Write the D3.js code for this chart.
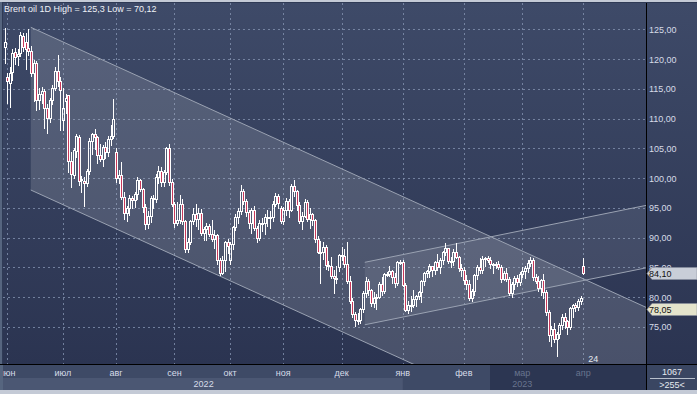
<!DOCTYPE html>
<html><head><meta charset="utf-8">
<script src="https://cdn.jsdelivr.net/npm/d3@7/dist/d3.min.js"></script>
<style>
html,body{margin:0;padding:0;background:#2f3a55;overflow:hidden;}
svg{display:block;font-family:"Liberation Sans",Arial,sans-serif;}
</style></head><body>
<svg id="chart" width="697" height="394"></svg>
<script>
const title = "Brent oil 1D High = 125,3 Low = 70,12";
const opens = [122.1,
116.9,116.0,117.8,121.2,120.5,121.0,123.8,122.9,121.9,121.3,117.6,119.3,113.1,114.1,114.7,111.7,110.1,113.1,115.1,118.0,116.3,
109.8,113.0,113.9,102.8,100.5,104.5,106.9,99.8,99.5,99.2,101.2,106.3,107.4,106.9,103.9,103.2,105.2,104.4,106.6,107.1,
104.4,100.0,100.5,96.8,94.1,94.9,96.7,96.3,97.4,99.6,98.2,95.1,92.3,93.7,96.6,96.5,100.2,101.2,99.3,101.0,105.1,99.3,
95.6,92.4,93.0,95.7,92.8,88.0,89.2,92.8,94.0,93.2,94.1,90.8,91.4,92.0,90.6,89.8,90.5,86.2,84.1,86.3,89.3,
86.2,88.9,91.8,93.4,94.4,97.9,96.2,94.3,92.5,94.6,91.6,90.0,92.4,92.4,93.5,93.3,93.5,95.7,97.0,95.0,
92.8,94.7,96.2,94.7,98.6,97.9,95.4,92.7,93.7,96.0,93.1,93.9,92.9,89.8,87.6,87.5,88.4,85.4,85.3,83.6,83.2,85.0,
87.0,86.9,85.6,82.7,79.4,77.2,76.2,76.1,78.0,80.7,82.7,81.2,79.0,79.8,80.0,82.2,81.0,83.9,83.9,84.3,83.3,82.3,85.9,
85.9,82.1,77.8,78.7,78.6,79.7,80.1,80.8,82.7,84.0,84.3,85.3,84.5,85.9,85.0,86.2,87.6,88.2,86.1,86.1,87.5,86.7,84.9,
84.5,82.8,82.2,79.9,81.0,83.7,85.1,84.5,86.4,86.6,86.2,85.6,85.4,85.6,85.1,83.0,84.1,83.1,80.6,82.2,83.2,82.5,
83.9,84.3,84.8,85.8,86.2,83.3,82.7,81.6,82.8,80.8,77.5,73.7,74.7,73.0,73.8,75.3,76.7,75.9,75.0,78.1,78.7,78.3,79.3,
85.2];
const highs = [125.3,
117.6,118.6,121.7,121.9,121.7,124.6,124.3,124.4,125.1,122.2,119.8,119.6,115.2,115.3,115.0,112.4,113.5,115.6,118.6,120.7,116.9,
115.1,114.2,114.0,104.3,105.1,107.4,107.2,100.3,100.1,101.6,106.8,107.6,108.3,107.0,105.7,105.5,106.0,107.0,109.0,113.3,
105.0,101.3,102.7,97.7,95.3,97.1,97.0,97.6,100.1,99.9,98.4,95.7,94.4,96.9,97.1,100.6,102.0,101.9,101.4,105.3,105.7,99.8,
96.0,96.0,97.1,96.4,93.0,90.0,93.0,95.0,95.6,95.0,94.8,91.8,92.5,92.3,93.0,91.2,90.6,86.6,86.9,89.4,89.8,
89.3,92.0,93.9,95.0,98.8,98.2,96.5,94.6,95.0,95.3,92.0,93.0,93.3,94.0,94.6,94.4,96.1,97.5,97.3,95.3,
95.2,96.7,96.5,99.0,99.6,98.0,96.0,94.3,96.5,96.3,95.0,94.2,93.1,90.2,89.4,89.2,88.8,86.0,86.8,84.5,85.3,87.3,
88.4,88.0,89.3,83.6,79.9,77.5,77.3,78.2,81.0,83.3,83.0,81.4,80.9,80.5,82.6,83.4,84.0,84.2,85.3,84.6,84.0,86.0,86.2,
86.3,82.4,79.3,80.1,81.2,80.4,81.0,82.8,84.2,84.6,85.6,85.3,86.0,87.2,86.5,87.8,89.1,88.3,86.8,88.0,89.1,86.9,85.5,
85.1,83.7,82.8,81.4,83.9,85.4,86.6,86.9,86.7,86.9,86.7,85.8,85.9,86.1,85.4,84.4,84.8,83.3,82.6,83.5,83.7,84.2,
85.0,85.2,86.2,86.7,86.6,83.8,83.5,83.0,83.8,81.2,77.8,75.2,75.6,74.2,75.6,77.2,77.4,76.1,78.3,78.9,79.0,79.6,80.2,
86.5];
const lows = [119.3,
112.6,112.0,116.5,119.2,119.0,120.5,121.4,118.3,120.6,117.1,113.0,111.5,111.6,112.6,108.4,107.6,109.5,112.4,114.8,115.5,108.0,
108.0,110.9,101.1,98.5,100.0,103.5,98.8,97.6,95.3,98.7,100.7,104.0,104.9,102.5,102.8,102.1,103.4,103.7,105.5,106.8,
99.4,99.1,96.4,93.2,92.8,93.8,95.0,95.1,96.5,97.8,94.3,91.5,91.6,92.6,95.0,96.0,99.1,98.6,98.7,100.6,98.9,95.3,
91.8,92.1,92.5,92.2,87.6,87.5,89.0,92.3,92.0,91.5,90.4,89.6,89.6,90.3,89.4,88.3,85.6,83.7,83.9,84.4,87.4,
85.6,88.1,91.2,92.4,94.0,95.6,93.6,91.6,90.7,91.3,89.3,89.6,91.1,90.6,92.0,91.6,92.8,95.3,95.0,92.4,
92.2,93.8,93.5,94.4,96.9,94.7,92.4,91.5,93.4,92.8,91.6,92.1,89.2,87.4,82.3,86.4,84.7,84.5,83.2,80.6,82.4,84.4,
86.3,85.0,82.3,79.0,76.7,75.1,75.5,75.6,77.5,80.0,80.4,78.5,78.4,78.0,79.8,80.4,80.6,83.5,83.5,82.3,81.7,82.0,85.5,
81.9,77.6,77.3,77.7,78.3,78.5,79.6,79.2,82.0,83.3,83.4,83.6,83.9,84.5,84.0,85.5,87.1,85.8,85.1,85.4,86.5,84.4,83.6,
82.2,81.3,79.5,79.4,80.4,83.0,84.1,84.0,85.2,85.9,84.8,84.0,84.9,84.7,82.6,82.8,82.7,80.4,80.0,81.4,81.8,82.0,
83.4,83.2,84.2,85.3,82.9,82.3,81.1,80.4,79.8,77.0,72.6,71.8,72.4,70.1,73.2,74.6,74.8,73.8,74.7,76.6,77.7,77.9,78.8,
83.8];
const closes = [122.9,
116.3,117.6,121.0,120.4,120.9,124.0,122.0,121.7,121.3,117.6,119.3,113.1,114.1,114.7,111.7,110.1,113.1,115.1,118.0,116.3,114.8,
111.8,113.5,102.8,100.7,104.7,107.0,99.5,99.6,99.1,101.2,106.3,107.4,106.9,103.9,103.2,105.2,104.4,106.6,107.1,110.0,
100.0,100.5,96.8,94.1,94.9,96.7,96.3,97.4,99.6,98.2,95.1,92.3,93.7,96.6,96.7,100.2,101.2,99.3,101.0,105.1,99.3,95.6,
92.4,93.0,95.7,92.8,88.0,89.2,92.8,94.0,93.2,94.1,90.8,91.4,92.0,90.6,89.8,90.5,86.2,84.1,86.3,89.3,88.5,
88.9,91.8,93.4,94.4,97.9,96.2,94.3,92.5,94.6,91.6,90.0,92.4,92.4,93.5,93.3,93.5,95.7,97.0,95.8,92.8,
94.7,96.2,94.7,98.6,97.9,95.4,92.7,93.7,96.0,93.1,93.9,92.9,89.8,87.6,87.5,88.4,85.4,85.3,83.6,83.2,83.0,87.0,
86.9,85.6,82.7,79.4,77.2,76.2,76.1,78.0,80.7,82.7,81.2,79.0,79.8,80.0,82.2,81.0,83.9,83.9,84.3,83.3,82.3,85.9,85.9,
82.1,77.8,78.7,78.6,79.7,80.1,80.8,82.7,84.0,84.3,85.3,84.5,85.9,85.0,86.2,87.6,88.2,86.1,86.1,87.5,86.7,84.9,84.5,
82.8,82.2,79.9,81.0,83.7,85.1,84.5,86.4,86.6,86.2,85.6,85.4,85.6,85.1,83.0,84.1,83.1,80.6,82.2,83.2,82.5,83.9,
84.3,84.8,85.8,86.2,83.3,82.7,81.6,82.8,80.8,77.5,73.7,74.7,73.0,73.8,75.3,76.7,75.9,75.0,78.1,78.7,78.3,79.3,79.8,
84.1];

const yTicks = [75,80,85,90,95,100,105,110,115,120,125];
const monthLabels = ["июн","июл","авг","сен","окт","ноя","дек","янв","фев","мар","апр"];
const monthStartBars = [1,22,42,64,85,105,127,150,173,195,218];
const yearLabels = ["2022","2023"];
const yearLabelBars = [75,195];
// trend channels: [barIndex, price]
const downChannelUpper = [[9.9,125.34],[242.7,78.05]];
const downChannelOffset = 27.35;
const upChannelLower = [[135.7,75.34],[242.7,85.0]];
const upChannelOffset = 10.5;
const lastPrice = 84.10;
const trendTag = 78.05;
const cornerTop = "1067", cornerBottom = ">255<";
const dayMark = "24";
const dayMarkBar = 218;

const W=697,H=394, L=3, R=646, T=3, B=364;
const N = closes.length;
const svg = d3.select("#chart");
const defs = svg.append("defs");
const grad = defs.append("linearGradient").attr("id","bg").attr("x1",0).attr("y1",0).attr("x2",0).attr("y2",1);
grad.append("stop").attr("offset","0%").attr("stop-color","#3e4a68");
grad.append("stop").attr("offset","100%").attr("stop-color","#2b3451");
defs.append("clipPath").attr("id","plotclip").append("rect").attr("x",L).attr("y",T).attr("width",R-L).attr("height",B-T);
defs.append("clipPath").attr("id","axclip").append("rect").attr("x",L).attr("y",B).attr("width",R-L).attr("height",H-B);

const x = d3.scaleLinear().domain([0,N-1]).range([4.5,583.3]);
const y = d3.scaleLinear().domain([75,125]).range([326.8,29.3]);

svg.append("rect").attr("width",W).attr("height",H).attr("fill","#2f3a55");
svg.append("rect").attr("x",L).attr("y",T).attr("width",W-L).attr("height",B-T).attr("fill","url(#bg)");
svg.append("rect").attr("x",0).attr("y",0).attr("width",W).attr("height",2).attr("fill","#c4cad6");
svg.append("rect").attr("x",0).attr("y",390).attr("width",W).attr("height",4).attr("fill","#c4cad6");
svg.append("rect").attr("x",0).attr("y",2).attr("width",2).attr("height",388).attr("fill","#56657f");

const plot = svg.append("g").attr("clip-path","url(#plotclip)");
plot.append("g").selectAll("line").data(yTicks).join("line")
  .attr("x1",L).attr("x2",R).attr("y1",d=>Math.round(y(d))+0.5).attr("y2",d=>Math.round(y(d))+0.5)
  .attr("stroke","#8392b0").attr("stroke-dasharray","2,3").attr("stroke-width",1).attr("opacity",0.8);
plot.append("g").selectAll("line").data(monthStartBars).join("line")
  .attr("y1",T).attr("y2",B).attr("x1",d=>Math.round(x(d))+0.5).attr("x2",d=>Math.round(x(d))+0.5)
  .attr("stroke","#8392b0").attr("stroke-dasharray","2,3").attr("stroke-width",1).attr("opacity",0.8);

function pt(p){return [x(p[0]),y(p[1])];}
const du0 = downChannelUpper[0], du1 = downChannelUpper[1];
const dl0 = [du0[0], du0[1]-downChannelOffset], dl1 = [du1[0], du1[1]-downChannelOffset];
const ul0 = upChannelLower[0], ul1 = upChannelLower[1];
const uu0 = [ul0[0], ul0[1]+upChannelOffset], uu1 = [ul1[0], ul1[1]+upChannelOffset];
plot.append("path").attr("d", d3.line()([pt(du0),pt(du1),pt(dl1),pt(dl0)])+"Z")
  .attr("fill","#b4bac6").attr("fill-opacity",0.22);
plot.append("path").attr("d", d3.line()([pt(uu0),pt(uu1),pt(ul1),pt(ul0)])+"Z")
  .attr("fill","#b4bac6").attr("fill-opacity",0.14);
[[du0,du1],[dl0,dl1],[ul0,ul1],[uu0,uu1]].forEach(s=>{
  plot.append("line").attr("x1",pt(s[0])[0]).attr("y1",pt(s[0])[1]).attr("x2",pt(s[1])[0]).attr("y2",pt(s[1])[1])
    .attr("stroke","#9aa2b2").attr("stroke-width",1);
});

const cg = plot.append("g").attr("shape-rendering","crispEdges");
closes.forEach((c,i)=>{
  const o=opens[i], h=highs[i], l=lows[i];
  const cx = Math.round(x(i))+0.5;
  const top = Math.round(y(Math.max(o,c)))+0.5, bot = Math.round(y(Math.min(o,c)))+0.5;
  const yh = Math.round(y(h)), yl = Math.round(y(l))+1;
  cg.append("line").attr("x1",cx).attr("x2",cx).attr("y1",yh).attr("y2",top).attr("stroke","#fff");
  cg.append("line").attr("x1",cx).attr("x2",cx).attr("y1",bot).attr("y2",yl).attr("stroke","#fff");
  cg.append("rect").attr("x",cx-1).attr("y",top).attr("width",2).attr("height",Math.max(bot-top,1))
    .attr("fill", c<o ? "#c8385a" : "none").attr("stroke","#fff").attr("stroke-width",1);
});

svg.append("line").attr("x1",0).attr("x2",W).attr("y1",B+0.5).attr("y2",B+0.5).attr("stroke","#000");
svg.append("line").attr("x1",R+0.5).attr("x2",R+0.5).attr("y1",T).attr("y2",390).attr("stroke","#000");

svg.append("g").selectAll("text").data(yTicks).join("text")
  .attr("x",649).attr("y",d=>y(d)+3.5).text(d=>d3.format(".2f")(d).replace(".",","))
  .attr("font-size",9).attr("fill","#d6dce8");

function tag(v, fill){
  const cy = Math.round(y(v))+0.5;
  svg.append("path").attr("d",`M${R+1},${cy} L${R+6},${cy-6} L${W},${cy-6} L${W},${cy+6} L${R+6},${cy+6} Z`)
    .attr("fill",fill).attr("stroke","#8a90a0").attr("stroke-width",0.6);
  svg.append("text").attr("x",649).attr("y",cy+3.5).text(d3.format(".2f")(v).replace(".",","))
    .attr("font-size",9).attr("fill","#111");
}
tag(lastPrice,"#c9ced8");
tag(trendTag,"#e4e4cc");

const ax = svg.append("g");
ax.append("rect").attr("x",L).attr("y",B+1).attr("width",R-L).attr("height",13).attr("fill","#3e4a66");
ax.append("rect").attr("x",L).attr("y",B+14).attr("width",R-L).attr("height",12).attr("fill","#3e4a66");
ax.append("rect").attr("x",L).attr("y",B+14).attr("width",x(monthStartBars[7])-L).attr("height",12).attr("fill","#4b5773");
ax.append("rect").attr("x",490).attr("y",B+1).attr("width",R-490).attr("height",25).attr("fill","#2c3652");
ax.append("rect").attr("x",0).attr("y",B+1).attr("width",L).attr("height",25).attr("fill","#56657f");
const axl = svg.append("g").attr("clip-path","url(#axclip)");
axl.selectAll("text.m").data(monthLabels).join("text").attr("class","m")
  .attr("x",(d,i)=>x(monthStartBars[i])).attr("y",376).attr("text-anchor","middle")
  .attr("font-size",9).attr("fill",(d,i)=> i>=9 ? "#68748e" : "#d6dce8").text(d=>d);
axl.selectAll("text.yy").data(yearLabels).join("text").attr("class","yy")
  .attr("x",(d,i)=>x(yearLabelBars[i])).attr("y",387).attr("text-anchor","middle")
  .attr("font-size",9).attr("fill",(d,i)=> i==1 ? "#68748e" : "#d6dce8").text(d=>d);
svg.append("rect").attr("x",R+1).attr("y",B+1).attr("width",W-R-1).attr("height",25).attr("fill","#3a4662");
svg.append("text").attr("x",672).attr("y",375).attr("text-anchor","middle").attr("font-size",9).attr("fill","#e6eaf0").text(cornerTop);
svg.append("line").attr("x1",650).attr("x2",695).attr("y1",378.5).attr("y2",378.5).attr("stroke","#b8c0cc");
svg.append("text").attr("x",672).attr("y",388).attr("text-anchor","middle").attr("font-size",9).attr("fill","#e6eaf0").text(cornerBottom);
svg.append("text").attr("x",x(dayMarkBar)+5).attr("y",362).attr("font-size",9).attr("fill","#e6eaf0").text(dayMark);
svg.append("text").attr("x",4).attr("y",12).attr("font-size",9).attr("fill","#eef1f6").text(title);
</script></body></html>
